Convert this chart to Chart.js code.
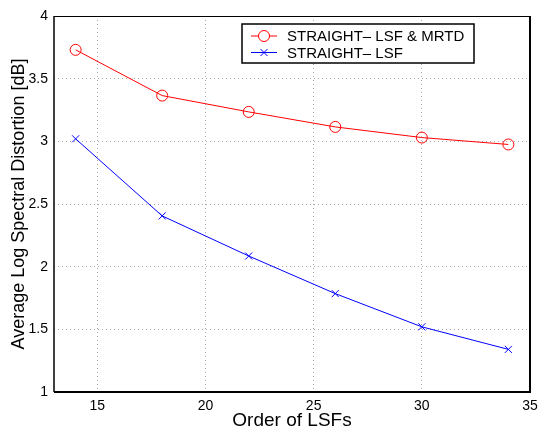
<!DOCTYPE html>
<html>
<head>
<meta charset="utf-8">
<script src="https://cdn.jsdelivr.net/npm/chart.js@4"></script>
<style>
  html, body { margin: 0; padding: 0; background: #fff; }
  #wrap { width: 538px; height: 430px; }
</style>
</head>
<body>
<div id="wrap"><canvas id="c" width="538" height="430"></canvas></div>
<script>
// data
const orders = [14, 18, 22, 26, 30, 34];
const lsfMrtd = [3.73, 3.365, 3.235, 3.115, 3.03, 2.975];
const lsfOnly = [3.02, 2.405, 2.085, 1.785, 1.52, 1.34];
const xTicks = [15, 20, 25, 30, 35];
const yTicks = [1, 1.5, 2, 2.5, 3, 3.5, 4];
const seriesLabels = ['STRAIGHT\u2013 LSF & MRTD', 'STRAIGHT\u2013 LSF'];

const FONT = "'Liberation Sans', Arial, Helvetica, sans-serif";

const toPoints = (ys) => orders.map((x, i) => ({ x: x, y: ys[i] }));

// MATLAB-like box around the axes
const boxPlugin = {
    id: 'box',
    afterDatasetsDraw(chart) {
        const { ctx, chartArea: a } = chart;
        ctx.save();
        ctx.strokeStyle = '#000';
        ctx.lineWidth = 1;
        ctx.beginPath();
        ctx.moveTo(a.left, a.top + 0.5);
        ctx.lineTo(a.right, a.top + 0.5);
        ctx.stroke();
        ctx.lineWidth = 2;
        ctx.beginPath();
        ctx.moveTo(a.right, a.top);
        ctx.lineTo(a.right, a.bottom + 1);
        ctx.moveTo(a.left, a.bottom);
        ctx.lineTo(a.right + 1, a.bottom);
        ctx.stroke();
        ctx.lineWidth = 1.5;
        ctx.beginPath();
        ctx.moveTo(a.left, a.top);
        ctx.lineTo(a.left, a.bottom);
        ctx.stroke();
        ctx.restore();
    }
};

// legend drawn as a boxed inset, top right
const insetLegend = {
    id: 'insetLegend',
    afterDraw(chart) {
        const { ctx } = chart;
        const left = 242, top = 24, w = 232, h = 39;
        ctx.save();
        ctx.fillStyle = '#fff';
        ctx.fillRect(left, top, w, h);
        ctx.strokeStyle = '#000';
        ctx.lineWidth = 1.5;
        ctx.strokeRect(left, top, w, h);
        ctx.font = '15px ' + FONT;
        ctx.textBaseline = 'middle';
        chart.data.datasets.forEach((ds, i) => {
            const y = top + 12 + i * 16.5;
            ctx.strokeStyle = ds.borderColor;
            ctx.lineWidth = 1;
            ctx.beginPath();
            ctx.moveTo(left + 9, y);
            ctx.lineTo(left + 35, y);
            ctx.stroke();
            Chart.helpers.drawPoint(ctx, {
                pointStyle: ds.pointStyle,
                radius: ds.pointRadius,
                borderWidth: 1,
                rotation: 0
            }, left + 22, y);
            ctx.fillStyle = '#000';
            ctx.fillText(ds.label, left + 45, y + 1);
        });
        ctx.restore();
    }
};

new Chart(document.getElementById('c'), {
    type: 'scatter',
    data: {
        datasets: [{
            label: seriesLabels[0],
            data: toPoints(lsfMrtd),
            showLine: true,
            borderColor: '#ff0000',
            backgroundColor: 'rgba(0,0,0,0)',
            borderWidth: 1,
            pointStyle: 'circle',
            pointRadius: 5.5,
            pointBorderWidth: 1,
            pointBorderColor: '#ff0000',
            pointBackgroundColor: 'rgba(0,0,0,0)'
        }, {
            label: seriesLabels[1],
            data: toPoints(lsfOnly),
            showLine: true,
            borderColor: '#0000ff',
            backgroundColor: 'rgba(0,0,0,0)',
            borderWidth: 1,
            pointStyle: 'crossRot',
            pointRadius: 5,
            pointBorderWidth: 1,
            pointBorderColor: '#0000ff'
        }]
    },
    options: {
        responsive: false,
        animation: false,
        layout: { padding: { top: 16, right: 0, left: 0, bottom: 0 } },
        plugins: {
            legend: { display: false },
            tooltip: { enabled: false }
        },
        scales: {
            x: {
                type: 'linear',
                min: 13,
                max: 35,
                afterBuildTicks: (s) => { s.ticks = xTicks.map(v => ({ value: v })); },
                afterFit: (s) => {
                    s.height = 38;
                    s.paddingRight = 8;
                    s.paddingLeft = 0;
                },
                grid: {
                    color: '#aaa',
                    lineWidth: 1,
                    drawTicks: false
                },
                border: { display: false, dash: [1, 3] },
                ticks: {
                    color: '#000',
                    padding: 6,
                    maxRotation: 0,
                    font: { family: FONT, size: 14 },
                    callback: (v) => String(v)
                },
                title: {
                    display: true,
                    text: 'Order of LSFs',
                    color: '#000',
                    padding: { top: 0, bottom: 0 },
                    font: { family: FONT, size: 19, lineHeight: 1 }
                }
            },
            y: {
                type: 'linear',
                min: 1,
                max: 4,
                afterBuildTicks: (s) => { s.ticks = yTicks.map(v => ({ value: v })); },
                afterFit: (s) => { s.width = 54; },
                grid: {
                    color: '#aaa',
                    lineWidth: 1,
                    drawTicks: false
                },
                border: { display: false, dash: [1, 3] },
                ticks: {
                    color: '#000',
                    padding: 6,
                    font: { family: FONT, size: 14 },
                    callback: (v) => String(v)
                },
                title: {
                    display: true,
                    text: 'Average Log Spectral Distortion [dB]',
                    color: '#000',
                    padding: { top: 10, bottom: 0 },
                    font: { family: FONT, size: 18, lineHeight: 1 }
                }
            }
        }
    },
    plugins: [boxPlugin, insetLegend]
});
</script>
</body>
</html>
